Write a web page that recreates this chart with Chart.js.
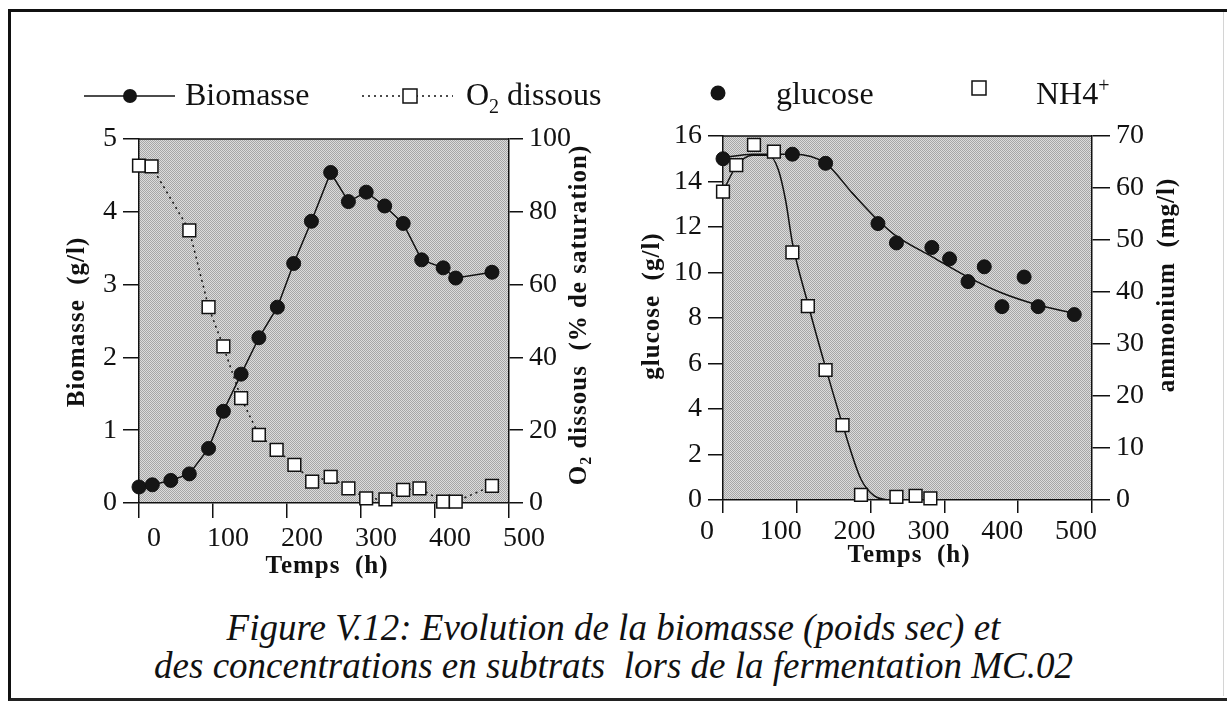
<!DOCTYPE html>
<html>
<head>
<meta charset="utf-8">
<script src="https://cdn.jsdelivr.net/npm/chart.js@4.4.0/dist/chart.umd.min.js"></script>
<style>
  html, body { margin: 0; padding: 0; background: #fff; }
  #page { position: relative; width: 1227px; height: 701px; overflow: hidden; }
  #frame { position: absolute; left: 8px; top: 9px; width: 1240px; height: 686px;
           border-top: 3px solid #111; border-left: 3px solid #111; border-bottom: 3px solid #222; }
  #edge { position: absolute; left: 1223px; top: 12px; width: 1px; height: 684px; background: #d4d4d4; }
  canvas { position: absolute; top: 0; }
  #biomasseChart { left: 0; }
  #substratChart { left: 610px; }
  .legende { position: absolute; left: 0; width: 1227px; text-align: center;
             font: italic 37px "Liberation Serif", serif; line-height: 37px; color: #111; }
</style>
</head>
<body>
<div id="page">
  <div id="frame"></div>
  <div id="edge"></div>
  <canvas id="biomasseChart" width="610" height="600"></canvas>
  <canvas id="substratChart" width="617" height="600"></canvas>
  <div class="legende" style="top:609px">Figure V.12: Evolution de la biomasse (poids sec) et</div>
  <div class="legende" style="top:647px">des concentrations en subtrats&nbsp; lors de la fermentation MC.02</div>
</div>
<script>
// fermentation MC.02 : biomasse (g/l) et O2 dissous (% saturation)
const tBiomasse = [0, 18, 43, 68, 94, 114, 138, 162, 187, 209, 233, 259, 283, 307, 332, 357, 382, 411, 428, 477];
const biomasse = [0.22, 0.25, 0.31, 0.40, 0.75, 1.26, 1.77, 2.27, 2.69, 3.29, 3.87, 4.54, 4.14, 4.27, 4.08, 3.84, 3.34, 3.23, 3.09, 3.17];
const tO2 = [0, 17, 68, 94, 114, 138, 162, 186, 210, 234, 259, 283, 307, 333, 357, 379, 411, 428, 477];
const o2 = [92.7, 92.5, 74.9, 53.8, 43, 28.8, 18.7, 14.6, 10.5, 5.9, 7.2, 4.0, 1.3, 1.0, 3.6, 4.0, 0.4, 0.4, 4.7];

// substrats : glucose (g/l) et NH4+ (mg/l), mesures + courbes lissées
const tGlucose = [0, 94, 139, 210, 235, 283, 307, 332, 354, 378, 408, 427, 476];
const glucose = [15.0, 15.2, 14.8, 12.15, 11.3, 11.1, 10.6, 9.6, 10.25, 8.5, 9.8, 8.5, 8.15];
const tGlucoseFit = [0, 40, 95, 139, 175, 210, 235, 283, 332, 378, 427, 476];
const glucoseFit = [15.05, 15.2, 15.2, 14.8, 13.5, 12.3, 11.6, 10.7, 9.8, 9.1, 8.57, 8.2];
const tNH4 = [0, 18, 42, 69, 94, 115, 139, 162, 187, 235, 261, 281];
const nh4 = [59.3, 64.4, 68.3, 67.0, 47.6, 37.3, 25.0, 14.4, 1.0, 0.6, 0.8, 0.3];
const tNH4Fit = [0, 18, 40, 62, 75, 85, 94, 115, 139, 162, 187, 205, 222];
const nh4Fit = [59.3, 64.2, 66.3, 66.3, 63.5, 57.5, 49.5, 37.8, 25.5, 14.5, 4.0, 0.8, 0];

const timeTicks = [0, 100, 200, 300, 400, 500];

const serif = '"Liberation Serif", "Times New Roman", serif';
const ink = '#111';

function pts(xs, ys) {
  return xs.map((x, i) => ({ x: x, y: ys[i] }));
}

// fond tramé gris de la zone de tracé
function trame(ctx) {
  const c = document.createElement('canvas');
  c.width = 2; c.height = 2;
  const g = c.getContext('2d');
  g.fillStyle = '#dcdcdc';
  g.fillRect(0, 0, 2, 2);
  g.fillStyle = '#a6a6a6';
  g.fillRect(0, 0, 1, 1);
  g.fillRect(1, 1, 1, 1);
  return ctx.createPattern(c, 'repeat');
}

// texte en morceaux (indices, exposants)
function runs(ctx, parts, x, y, size, bold) {
  let cx = x;
  parts.forEach(p => {
    const s = p.small ? Math.round(size * 0.62) : size;
    ctx.font = (bold ? 'bold ' : '') + s + 'px ' + serif;
    ctx.fillText(p.t, cx, y + (p.dy || 0));
    cx += ctx.measureText(p.t).width;
  });
  return cx - x;
}
function runsWidth(ctx, parts, size, bold) {
  let w = 0;
  parts.forEach(p => {
    const s = p.small ? Math.round(size * 0.62) : size;
    ctx.font = (bold ? 'bold ' : '') + s + 'px ' + serif;
    w += ctx.measureText(p.t).width;
  });
  return w;
}

function marker(ctx, kind, x, y, r) {
  ctx.save();
  ctx.lineWidth = 1.5;
  ctx.strokeStyle = ink;
  ctx.beginPath();
  if (kind === 'circle') {
    ctx.fillStyle = '#151515';
    ctx.arc(x, y, r, 0, Math.PI * 2);
    ctx.fill();
  } else {
    ctx.fillStyle = '#fff';
    ctx.rect(x - r, y - r, 2 * r, 2 * r);
    ctx.fill();
    ctx.stroke();
  }
  ctx.restore();
}

const figurePlugin = {
  id: 'figure',
  beforeDraw(chart) {
    const a = chart.chartArea, ctx = chart.ctx;
    ctx.save();
    ctx.fillStyle = trame(ctx);
    ctx.fillRect(a.left, a.top, a.right - a.left, a.bottom - a.top);
    ctx.restore();
  },
  afterDraw(chart, args, opts) {
    const a = chart.chartArea, ctx = chart.ctx;
    ctx.save();
    ctx.strokeStyle = ink;
    ctx.lineWidth = 1.5;
    ctx.beginPath();
    ctx.moveTo(a.left, a.top);
    ctx.lineTo(a.right, a.top);
    ctx.stroke();

    // titres d'axes
    ctx.fillStyle = ink;
    ctx.textBaseline = 'middle';
    ctx.letterSpacing = '1px';
    (opts.titles || []).forEach(t => {
      const w = runsWidth(ctx, t.parts, t.size, true);
      ctx.save();
      ctx.translate(t.x, t.y);
      if (t.rotate) ctx.rotate(-Math.PI / 2);
      runs(ctx, t.parts, -w / 2, 0, t.size, true);
      ctx.restore();
    });
    ctx.letterSpacing = '0px';

    // légende
    (opts.legend || []).forEach(l => {
      if (l.line) {
        ctx.save();
        ctx.lineWidth = 1.5;
        ctx.strokeStyle = ink;
        ctx.setLineDash(l.dash || []);
        ctx.beginPath();
        ctx.moveTo(l.line[0], l.y);
        ctx.lineTo(l.line[1], l.y);
        ctx.stroke();
        ctx.restore();
      }
      marker(ctx, l.kind, l.mx, l.y, l.r);
      ctx.textBaseline = 'alphabetic';
      runs(ctx, l.parts, l.tx, l.ty, 32, false);
    });
    ctx.restore();
  }
};

function axe(pos, min, max, step, size, tickLen, extra) {
  return Object.assign({
    type: 'linear',
    position: pos,
    min: min,
    max: max,
    afterFit(s) {
      if (pos === 'bottom') s.height = size; else s.width = size;
    },
    afterBuildTicks(s) {
      if (pos === 'bottom') s.ticks = timeTicks.map(v => ({ value: v }));
    },
    ticks: { stepSize: step, color: ink, padding: 6, font: { family: serif, size: 28 } },
    grid: { display: true, drawOnChartArea: false, drawTicks: true, tickLength: tickLen,
            color: ink, lineWidth: 1.5 },
    border: { display: true, color: ink, width: 1.5 }
  }, extra || {});
}

Chart.register(figurePlugin);

new Chart(document.getElementById('biomasseChart'), {
  type: 'scatter',
  data: {
    datasets: [{
      label: 'O2 dissous',
      data: pts(tO2, o2),
      yAxisID: 'y1',
      showLine: true,
      borderColor: ink,
      borderWidth: 1.5,
      borderDash: [2, 4],
      pointStyle: 'rect',
      pointRadius: 9,
      pointBackgroundColor: '#fff',
      pointBorderColor: ink,
      pointBorderWidth: 1.5,
      clip: false
    }, {
      label: 'Biomasse',
      data: pts(tBiomasse, biomasse),
      yAxisID: 'y',
      showLine: true,
      borderColor: ink,
      borderWidth: 1.5,
      pointStyle: 'circle',
      pointRadius: 7,
      pointBackgroundColor: '#151515',
      pointBorderColor: ink,
      pointBorderWidth: 1,
      clip: false
    }]
  },
  options: {
    responsive: false,
    animation: false,
    layout: { padding: { top: 139, left: 0, right: 0, bottom: 0 } },
    scales: {
      x: axe('bottom', 0, 500, 100, 97, 15, { ticks: { color: ink, padding: 4, labelOffset: 15, maxRotation: 0, font: { family: serif, size: 28 } } }),
      y: axe('left', 0, 5, 1, 139, 16),
      y1: axe('right', 0, 100, 20, 101, 14)
    },
    plugins: {
      legend: { display: false },
      tooltip: { enabled: false },
      figure: {
        titles: [
          { parts: [{ t: 'Biomasse  (g/l)' }], x: 78, y: 322, size: 25, rotate: true },
          { parts: [{ t: 'O' }, { t: '2', small: true, dy: 7 }, { t: ' dissous  (% de saturation)' }], x: 580, y: 315, size: 25, rotate: true },
          { parts: [{ t: 'Temps  (h)' }], x: 327, y: 567, size: 25 }
        ],
        legend: [
          { kind: 'circle', line: [84, 175], y: 96, mx: 130, r: 7, tx: 185, ty: 105, parts: [{ t: 'Biomasse' }] },
          { kind: 'rect', line: [362, 453], dash: [2, 4], y: 96, mx: 410, r: 7, tx: 466, ty: 105,
            parts: [{ t: 'O' }, { t: '2', small: true, dy: 8 }, { t: ' dissous' }] }
        ]
      }
    }
  }
});

new Chart(document.getElementById('substratChart'), {
  type: 'scatter',
  data: {
    datasets: [{
      label: 'NH4+',
      data: pts(tNH4, nh4),
      yAxisID: 'y1',
      pointStyle: 'rect',
      pointRadius: 9,
      pointBackgroundColor: '#fff',
      pointBorderColor: ink,
      pointBorderWidth: 1.5,
      clip: false
    }, {
      label: 'glucose',
      data: pts(tGlucose, glucose),
      yAxisID: 'y',
      pointStyle: 'circle',
      pointRadius: 7,
      pointBackgroundColor: '#151515',
      pointBorderColor: ink,
      pointBorderWidth: 1,
      clip: false
    }, {
      label: 'NH4+ lissé',
      data: pts(tNH4Fit, nh4Fit),
      yAxisID: 'y1',
      showLine: true,
      cubicInterpolationMode: 'monotone',
      borderColor: ink,
      borderWidth: 1.5,
      pointRadius: 0
    }, {
      label: 'glucose lissé',
      data: pts(tGlucoseFit, glucoseFit),
      yAxisID: 'y',
      showLine: true,
      cubicInterpolationMode: 'monotone',
      borderColor: ink,
      borderWidth: 1.5,
      pointRadius: 0
    }]
  },
  options: {
    responsive: false,
    animation: false,
    layout: { padding: { top: 136, left: 0, right: 0, bottom: 0 } },
    scales: {
      x: axe('bottom', 0, 500, 100, 100, 13, { ticks: { color: ink, padding: 2, labelOffset: -16, maxRotation: 0, font: { family: serif, size: 28 } } }),
      y: axe('left', 0, 16, 2, 113, 15),
      y1: axe('right', 0, 70, 10, 135, 18)
    },
    plugins: {
      legend: { display: false },
      tooltip: { enabled: false },
      figure: {
        titles: [
          { parts: [{ t: 'glucose  (g/l)' }], x: 43, y: 306, size: 25, rotate: true },
          { parts: [{ t: 'ammonium  (mg/l)' }], x: 558, y: 285, size: 25, rotate: true },
          { parts: [{ t: 'Temps  (h)' }], x: 299, y: 556, size: 25 }
        ],
        legend: [
          { kind: 'circle', y: 93, mx: 108, r: 7.5, tx: 166, ty: 104, parts: [{ t: 'glucose' }] },
          { kind: 'rect', y: 88, mx: 369, r: 7, tx: 426, ty: 104,
            parts: [{ t: 'NH4' }, { t: '+', small: true, dy: -12 }] }
        ]
      }
    }
  }
});
</script>
</body>
</html>
